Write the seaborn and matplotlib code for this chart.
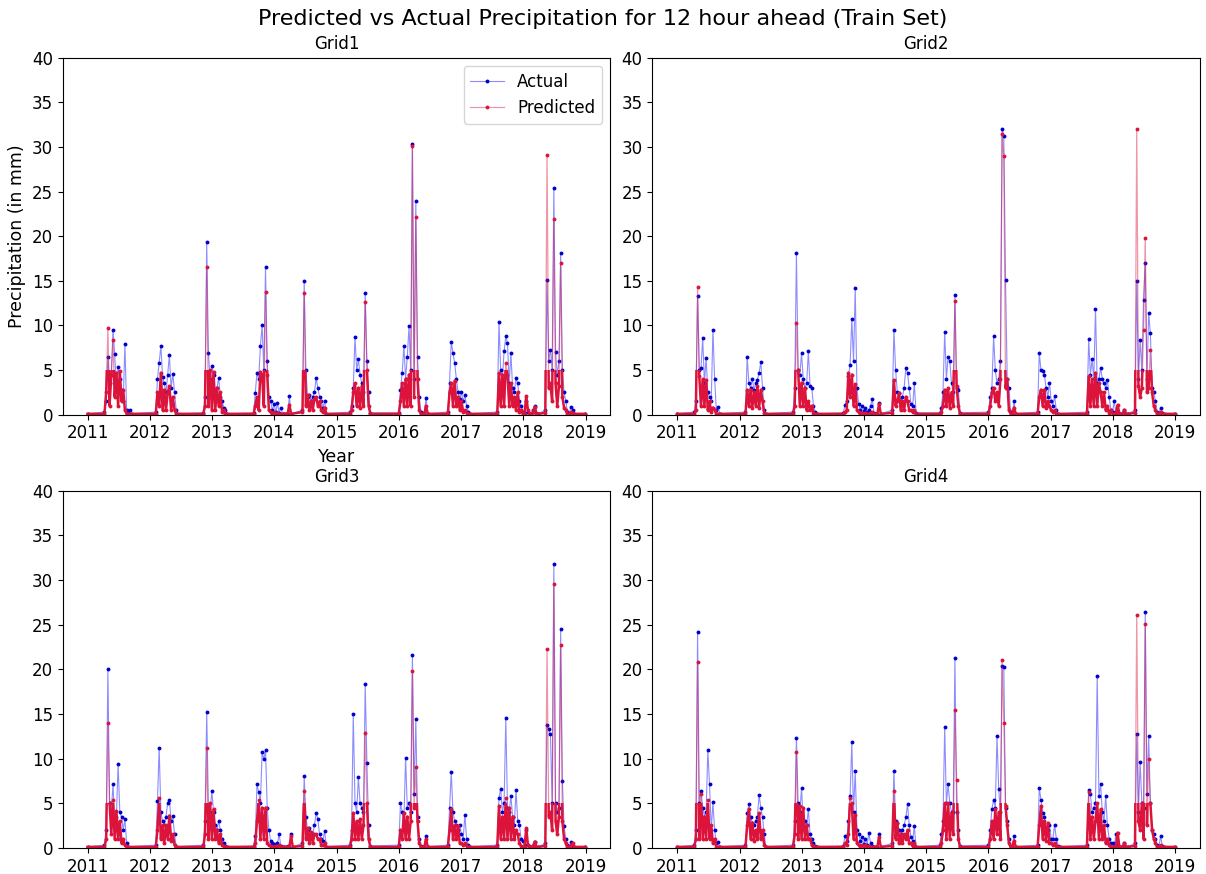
import pandas as pd
import matplotlib
matplotlib.use('Agg')
import matplotlib.pyplot as plt
import matplotlib.dates as mdates
import matplotlib.transforms as mtransforms
from matplotlib.patches import Rectangle
import seaborn as sns

# ==============================================================================
# DATA (one sub-list per rainy season, 10-day steps)
# ==============================================================================
GRID_NAMES = ['Grid1', 'Grid2', 'Grid3', 'Grid4']
SEASON_STARTS = ['2011-04-10', '2012-02-05', '2012-11-10', '2013-09-01', '2014-06-15',
                 '2015-03-20', '2016-01-01', '2016-10-15', '2017-08-01', '2018-05-10']
STEP = '10D'
EDGE_DATES = ['2011-01-01', '2018-12-31']
EDGE_VALUE = 0.1

G1_ACTUAL = [
    [0.3, 1.5, 6.5, 3.5, 4.5, 9.5, 6.8, 3.0, 5.4, 4.0, 2.8, 1.5, 7.9, 0.5, 0.2, 0.5, 0.1],
    [0.3, 4.0, 5.8, 7.7, 4.2, 3.5, 2.5, 4.5, 6.7, 3.0, 4.6, 2.5, 0.5, 0.1],
    [0.2, 2.0, 19.3, 6.9, 4.0, 5.5, 4.5, 2.5, 3.0, 4.1, 2.0, 1.5, 0.8, 0.5, 0.1],
    [0.2, 2.4, 4.7, 4.0, 7.7, 10.0, 5.0, 16.5, 6.0, 2.0, 1.5, 0.5, 1.2, 0.3, 1.3, 0.2, 0.8, 0.1, 0.1, 0.1, 0.1, 2.1, 0.1],
    [0.5, 15.0, 5.0, 2.0, 2.2, 1.5, 2.0, 2.5, 4.1, 3.0, 2.0, 1.5, 0.8, 1.5, 0.1],
    [0.3, 1.0, 3.0, 8.7, 5.0, 6.2, 4.5, 3.5, 2.5, 13.6, 6.0, 2.5, 0.2],
    [0.2, 2.8, 4.7, 7.7, 4.0, 6.5, 9.9, 5.0, 30.3, 4.0, 23.9, 6.5, 2.0, 0.3, 0.1, 0.2, 1.9, 0.1],
    [0.3, 3.6, 8.2, 6.9, 5.8, 4.0, 2.5, 1.8, 2.5, 1.5, 2.2, 1.0, 0.3, 0.1],
    [0.3, 10.4, 5.0, 4.0, 7.1, 8.8, 8.0, 3.5, 6.9, 3.0, 2.5, 4.1, 3.5, 1.5, 1.0, 0.3, 0.2, 1.5, 0.3, 0.1, 0.1, 0.5, 1.0, 0.2, 0.1],
    [0.5, 15.1, 6.0, 7.3, 5.0, 25.4, 7.0, 4.5, 6.0, 18.1, 5.0, 2.5, 1.5, 0.3, 0.1, 0.9, 0.5, 0.1],
]
G1_PRED = [
    [0.1, 2.5, 9.7, 1.0, 4.5, 8.4, 2.0, 4.7, 1.0, 4.9, 1.5, 2.8, 0.5, 0.1, 0.1],
    [0.1, 2.5, 1.0, 4.7, 0.5, 2.8, 0.5, 2.5, 3.2, 0.5, 2.0, 0.5, 0.1],
    [0.1, 1.0, 16.6, 1.0, 5.0, 0.5, 4.8, 0.5, 3.0, 1.0, 2.5, 0.3, 0.5, 0.1, 0.1],
    [0.1, 1.0, 2.0, 0.5, 4.8, 4.5, 1.0, 13.8, 4.5, 0.5, 0.3, 0.1, 0.3, 0.1, 0.2, 0.1, 0.1, 0.1, 0.1, 0.1, 0.1, 1.1, 0.1],
    [0.3, 13.6, 1.0, 2.2, 0.5, 1.5, 0.5, 1.8, 2.0, 1.0, 1.5, 0.5, 0.3, 0.8, 0.1],
    [0.1, 0.5, 2.5, 3.5, 1.0, 3.0, 0.8, 3.2, 1.0, 12.6, 5.0, 1.0, 0.1],
    [0.1, 1.5, 3.5, 1.0, 4.0, 1.0, 4.5, 1.0, 30.1, 2.0, 22.2, 4.0, 0.5, 0.1, 0.1, 0.1, 1.0, 0.1],
    [0.1, 2.5, 3.5, 1.0, 3.8, 1.0, 2.0, 0.5, 1.5, 0.3, 0.5, 0.2, 0.1, 0.1],
    [0.1, 4.7, 1.0, 4.5, 1.0, 5.8, 4.5, 1.0, 3.5, 1.0, 2.0, 0.5, 2.5, 0.3, 0.5, 0.1, 0.1, 2.1, 0.5, 0.1, 0.1, 0.3, 0.9, 0.1, 0.1],
    [0.2, 29.1, 3.0, 3.5, 1.5, 21.9, 3.5, 1.0, 3.2, 17.0, 2.0, 0.8, 0.5, 0.1, 0.1, 0.3, 0.2, 0.1],
]

G2_ACTUAL = [
    [0.3, 1.5, 13.3, 5.0, 5.2, 8.6, 3.5, 6.4, 2.5, 2.0, 1.5, 9.5, 4.0, 0.5, 0.9, 0.1],
    [0.3, 6.5, 3.5, 3.0, 4.0, 2.8, 3.5, 3.9, 4.7, 5.9, 3.0, 0.5, 0.1],
    [0.3, 3.0, 18.1, 5.0, 4.5, 6.9, 4.0, 3.0, 3.5, 7.1, 3.2, 3.0, 1.0, 0.3, 0.1],
    [0.2, 1.1, 1.5, 4.3, 5.6, 10.7, 6.0, 14.2, 3.0, 1.2, 0.5, 1.0, 0.4, 0.8, 0.3, 0.5, 1.0, 1.8, 0.2, 0.1, 0.1, 1.3, 0.1],
    [0.5, 9.5, 5.0, 2.5, 2.4, 1.5, 2.0, 3.0, 5.2, 4.7, 3.0, 1.2, 1.0, 3.5, 0.2],
    [0.2, 0.8, 2.5, 9.3, 4.0, 6.5, 6.0, 3.5, 2.5, 13.4, 3.0, 2.8, 0.2],
    [0.3, 2.0, 3.0, 8.8, 5.0, 3.5, 4.0, 6.0, 32.0, 31.2, 15.1, 4.0, 3.0, 0.3, 0.1, 1.5, 0.1],
    [0.3, 6.9, 5.0, 4.9, 4.5, 3.0, 2.0, 3.6, 1.5, 1.0, 2.1, 0.5, 0.1],
    [0.3, 8.5, 4.5, 6.2, 4.0, 11.8, 3.5, 4.0, 5.2, 4.0, 3.5, 3.0, 3.9, 2.0, 0.5, 0.3, 1.5, 0.2, 0.3, 0.1, 0.1, 0.2, 0.5, 0.1, 0.1],
    [0.5, 15.0, 4.0, 8.4, 5.0, 12.9, 17.0, 4.0, 11.4, 9.1, 3.0, 2.5, 1.5, 0.3, 0.1, 0.8, 0.2, 0.1],
]
G2_PRED = [
    [0.1, 0.5, 14.3, 4.3, 1.0, 4.0, 1.0, 3.9, 0.5, 1.5, 0.3, 0.8, 0.5, 0.1, 0.1, 0.1],
    [0.1, 2.8, 1.0, 2.8, 0.8, 2.5, 1.0, 3.2, 0.8, 2.8, 1.5, 0.2, 0.1],
    [0.1, 1.0, 10.3, 5.0, 1.0, 3.6, 1.0, 3.0, 0.5, 1.5, 0.5, 1.0, 0.2, 0.1, 0.1],
    [0.1, 0.3, 0.5, 4.7, 2.0, 4.5, 1.0, 3.4, 0.5, 0.3, 0.1, 0.2, 0.1, 0.2, 0.1, 0.1, 0.2, 0.3, 0.1, 0.1, 0.1, 1.2, 0.1],
    [0.2, 3.9, 1.0, 1.5, 2.4, 0.5, 1.5, 0.5, 2.0, 1.5, 0.5, 0.5, 0.3, 0.5, 0.1],
    [0.1, 0.3, 1.0, 2.8, 1.0, 3.0, 0.8, 2.5, 1.0, 12.7, 3.2, 1.0, 0.1],
    [0.1, 1.0, 2.5, 3.0, 1.5, 2.5, 1.0, 4.0, 31.4, 29.0, 3.0, 4.0, 0.5, 0.1, 0.1, 0.8, 0.1],
    [0.1, 2.0, 2.8, 1.0, 2.8, 0.8, 1.5, 1.0, 0.5, 0.3, 0.5, 0.1, 0.1],
    [0.1, 4.3, 1.0, 4.0, 1.0, 4.7, 1.0, 3.5, 2.5, 1.0, 2.5, 0.5, 1.0, 0.2, 0.5, 0.1, 0.1, 0.2, 1.1, 0.1, 0.1, 0.1, 0.5, 0.1, 0.1],
    [0.2, 32.0, 3.2, 2.0, 3.0, 9.5, 19.8, 2.5, 3.0, 7.3, 2.5, 1.0, 0.5, 0.1, 0.1, 0.3, 0.1, 0.1],
]

G3_ACTUAL = [
    [0.3, 2.0, 20.0, 5.0, 4.0, 7.1, 3.0, 3.5, 9.4, 4.0, 3.5, 2.0, 3.2, 0.5, 0.1],
    [0.3, 5.2, 11.2, 4.0, 3.0, 2.5, 3.5, 5.0, 5.4, 3.0, 3.6, 1.5, 0.1],
    [0.3, 3.0, 15.2, 4.5, 4.0, 6.4, 4.0, 2.5, 2.0, 3.0, 2.0, 1.0, 0.5, 0.2, 0.1],
    [0.2, 1.3, 7.1, 6.2, 5.0, 10.7, 9.9, 11.0, 4.5, 2.0, 0.8, 0.5, 0.4, 0.3, 0.5, 1.5, 0.2, 0.1, 0.1, 0.1, 0.2, 0.1, 1.5, 0.1],
    [0.5, 8.0, 3.5, 2.0, 2.2, 1.5, 1.5, 2.5, 3.9, 3.2, 1.5, 1.0, 0.8, 1.9, 0.1],
    [0.3, 2.0, 15.0, 5.0, 4.0, 7.9, 5.0, 4.5, 4.0, 18.3, 9.5, 2.5, 0.2],
    [0.3, 5.0, 4.0, 3.0, 10.1, 4.5, 5.0, 4.0, 21.6, 6.0, 14.4, 3.5, 1.0, 0.2, 0.1, 0.1, 1.3, 0.1],
    [0.3, 4.5, 8.5, 4.0, 3.0, 2.5, 2.0, 2.5, 1.5, 1.0, 3.7, 1.0, 0.3, 0.1],
    [0.3, 5.6, 6.6, 4.0, 5.0, 14.5, 4.5, 4.0, 5.8, 3.5, 2.5, 6.5, 3.0, 2.5, 1.0, 0.8, 0.3, 2.0, 0.3, 0.1, 0.1, 0.2, 0.6, 0.1, 0.1],
    [0.5, 13.7, 13.3, 12.7, 5.0, 31.8, 5.0, 4.0, 4.5, 24.5, 7.5, 2.4, 1.0, 0.3, 0.1, 0.6, 0.2, 0.1],
]
G3_PRED = [
    [0.1, 1.0, 14.0, 5.0, 1.5, 5.4, 1.0, 4.1, 1.0, 3.0, 0.5, 1.0, 0.3, 0.1, 0.1],
    [0.1, 2.0, 5.6, 1.0, 2.5, 0.5, 2.5, 1.0, 3.6, 0.8, 1.5, 0.3, 0.1],
    [0.1, 1.5, 11.2, 1.0, 5.0, 1.0, 4.3, 1.0, 2.0, 0.5, 1.5, 0.3, 0.2, 0.1, 0.1],
    [0.1, 0.5, 3.0, 5.4, 1.0, 4.5, 1.0, 4.5, 0.5, 0.3, 0.2, 0.1, 0.1, 0.2, 0.1, 0.3, 0.1, 0.1, 0.1, 0.1, 0.1, 0.1, 1.3, 0.1],
    [0.2, 6.4, 1.0, 2.2, 0.5, 1.8, 0.5, 1.5, 1.5, 1.0, 1.0, 0.3, 0.3, 0.5, 0.1],
    [0.1, 1.0, 3.9, 1.0, 3.0, 1.0, 3.2, 1.0, 2.5, 12.9, 5.0, 1.0, 0.1],
    [0.1, 2.0, 1.0, 3.9, 1.0, 3.5, 1.0, 3.0, 19.8, 4.5, 9.0, 3.0, 0.5, 0.1, 0.1, 0.1, 1.0, 0.1],
    [0.1, 2.0, 4.3, 1.0, 2.5, 1.0, 2.4, 0.5, 0.5, 0.3, 0.5, 0.2, 0.1, 0.1],
    [0.1, 4.7, 1.0, 3.5, 1.0, 5.6, 1.0, 4.5, 1.0, 3.5, 1.0, 2.0, 1.5, 0.5, 0.2, 0.1, 0.1, 2.2, 0.3, 0.1, 0.1, 0.2, 0.7, 0.1, 0.1],
    [0.2, 22.3, 3.5, 4.0, 2.0, 29.6, 3.0, 1.5, 3.5, 22.7, 3.0, 1.0, 0.5, 0.1, 0.1, 0.3, 0.5, 0.1],
]

G4_ACTUAL = [
    [0.3, 2.0, 24.2, 5.0, 6.4, 4.5, 3.5, 4.0, 10.9, 7.1, 2.0, 5.1, 2.0, 0.5, 0.7, 0.1],
    [0.3, 3.9, 4.9, 3.5, 2.8, 2.5, 3.0, 3.5, 5.9, 4.5, 3.4, 1.5, 0.1],
    [0.3, 3.0, 12.3, 5.0, 4.0, 6.7, 3.0, 3.0, 2.5, 4.3, 1.5, 1.0, 0.5, 0.2, 0.1],
    [0.2, 1.3, 0.8, 3.0, 5.8, 11.8, 4.0, 8.6, 2.0, 1.5, 0.8, 1.2, 0.4, 1.0, 0.3, 1.7, 0.5, 0.2, 0.1, 0.1, 0.1, 1.5, 0.1],
    [0.5, 8.6, 3.0, 2.8, 2.0, 1.5, 2.0, 2.5, 3.4, 4.9, 2.5, 1.2, 0.8, 2.4, 0.1],
    [0.3, 1.5, 3.0, 13.5, 5.0, 7.1, 5.0, 4.0, 4.0, 21.3, 4.0, 2.0, 0.2],
    [0.3, 2.0, 4.3, 5.4, 4.5, 12.5, 6.6, 4.0, 20.4, 20.3, 4.5, 3.0, 1.0, 0.2, 0.1, 1.3, 0.1],
    [0.3, 6.7, 5.4, 3.9, 3.5, 2.0, 2.0, 2.5, 1.0, 1.0, 2.6, 1.0, 0.2, 0.1],
    [0.3, 6.5, 6.0, 4.0, 4.5, 5.0, 19.3, 5.8, 7.1, 4.0, 3.0, 5.8, 2.5, 1.0, 0.5, 0.5, 0.2, 1.5, 0.3, 0.1, 0.1, 0.2, 0.5, 0.1, 0.1],
    [0.5, 12.7, 4.0, 9.6, 5.0, 4.5, 26.4, 6.0, 12.5, 5.0, 2.0, 1.5, 1.0, 0.3, 0.1, 1.3, 0.2, 0.1],
]
G4_PRED = [
    [0.1, 1.0, 20.8, 1.0, 6.0, 1.0, 3.5, 1.0, 5.4, 1.0, 2.5, 0.5, 1.0, 0.1, 0.1, 0.1],
    [0.1, 2.5, 4.3, 1.0, 2.8, 0.8, 2.0, 1.0, 3.9, 1.0, 2.0, 0.3, 0.1],
    [0.1, 1.5, 10.7, 1.0, 4.7, 1.0, 4.5, 1.0, 2.5, 1.0, 1.0, 0.3, 0.2, 0.1, 0.1],
    [0.1, 0.5, 0.3, 1.5, 5.6, 5.0, 1.0, 3.7, 0.5, 0.3, 0.2, 0.3, 0.1, 0.3, 0.1, 0.2, 0.1, 0.1, 0.1, 0.1, 0.1, 1.2, 0.1],
    [0.2, 6.4, 1.0, 2.8, 0.5, 1.5, 0.5, 1.5, 1.0, 2.0, 0.5, 0.5, 0.2, 0.5, 0.1],
    [0.1, 0.5, 2.0, 5.0, 1.0, 5.0, 1.0, 3.9, 1.5, 15.4, 7.6, 1.0, 0.1],
    [0.1, 1.0, 3.0, 1.0, 4.3, 1.5, 4.0, 1.0, 21.0, 14.0, 4.7, 2.5, 0.5, 0.1, 0.1, 0.8, 0.1],
    [0.1, 2.5, 4.7, 1.0, 3.0, 0.8, 2.8, 0.5, 0.5, 0.3, 0.5, 0.2, 0.1, 0.1],
    [0.1, 6.2, 1.0, 3.5, 1.0, 3.0, 5.0, 1.0, 4.3, 1.0, 2.5, 0.5, 1.0, 0.3, 0.1, 0.1, 0.1, 0.2, 1.7, 0.1, 0.1, 0.1, 0.5, 0.1, 0.1],
    [0.2, 26.1, 3.0, 2.0, 5.0, 1.0, 25.1, 2.5, 9.9, 5.0, 2.0, 1.0, 0.5, 0.1, 0.1, 0.3, 0.1, 0.1],
]

ACTUALS = [G1_ACTUAL, G2_ACTUAL, G3_ACTUAL, G4_ACTUAL]
PREDS = [G1_PRED, G2_PRED, G3_PRED, G4_PRED]

# the dense 12-hourly red trace reads as a solid band below about this level
DENSE_LEVEL = 5.0


def build_series(seasons):
    # one row per reading, seasons joined by the dry baseline
    parts = [pd.DataFrame({'date': pd.to_datetime(EDGE_DATES), 'value': EDGE_VALUE})]
    for start, values in zip(SEASON_STARTS, seasons):
        dates = pd.date_range(start, periods=len(values), freq=STEP)
        parts.append(pd.DataFrame({'date': dates, 'value': values}))
    return pd.concat(parts, ignore_index=True).sort_values('date')


# ==============================================================================
# FIGURE
# ==============================================================================
fig, axes = plt.subplots(2, 2, figsize=(12.06, 8.74), dpi=100)
fig.subplots_adjust(left=0.052, right=0.995, top=0.934, bottom=0.03, wspace=0.077, hspace=0.213)

for i, (ax, name) in enumerate(zip(axes.flat, GRID_NAMES)):
    actual = build_series(ACTUALS[i])
    pred = build_series(PREDS[i])

    sns.lineplot(data=actual, x='date', y='value', ax=ax,
                 color=(0.0, 0.0, 1.0, 0.45), linewidth=0.8, marker='o', markersize=2.8,
                 markerfacecolor='mediumblue', markeredgecolor='mediumblue', markeredgewidth=0,
                 estimator=None, errorbar=None, legend=False, label='Actual')
    # thin predicted trace with its points
    sns.lineplot(data=pred, x='date', y='value', ax=ax,
                 color=(0.86, 0.08, 0.24, 0.45), linewidth=0.9, marker='o', markersize=2.8,
                 markerfacecolor='crimson', markeredgecolor='crimson', markeredgewidth=0,
                 estimator=None, errorbar=None, legend=False, label='Predicted')
    # heavy stroke of the same trace, kept to the low band where the original is solid
    sns.lineplot(data=pred, x='date', y='value', ax=ax, color='crimson', linewidth=1.8,
                 estimator=None, errorbar=None, legend=False, label='_nolegend_')
    band = Rectangle((0, 0), 1, DENSE_LEVEL,
                     transform=mtransforms.blended_transform_factory(ax.transAxes, ax.transData))
    ax.lines[-1].set_clip_path(band)

    ax.set_title(name, fontsize=12)
    ax.set_ylim(0, 40)
    ax.set_yticks(range(0, 41, 5))
    ax.xaxis.set_major_locator(mdates.YearLocator())
    ax.xaxis.set_major_formatter(mdates.DateFormatter('%Y'))
    ax.tick_params(labelsize=12)
    if i == 0:
        ax.set_xlabel('Year', fontsize=12.5)
        ax.set_ylabel('Precipitation (in mm)', fontsize=12.5)
        ax.legend(loc='upper right', fontsize=12)
    else:
        ax.set_xlabel('')
        ax.set_ylabel('')

fig.suptitle('Predicted vs Actual Precipitation for 12 hour ahead (Train Set)', fontsize=16, y=0.99)
plt.savefig('out.png', dpi=100)
